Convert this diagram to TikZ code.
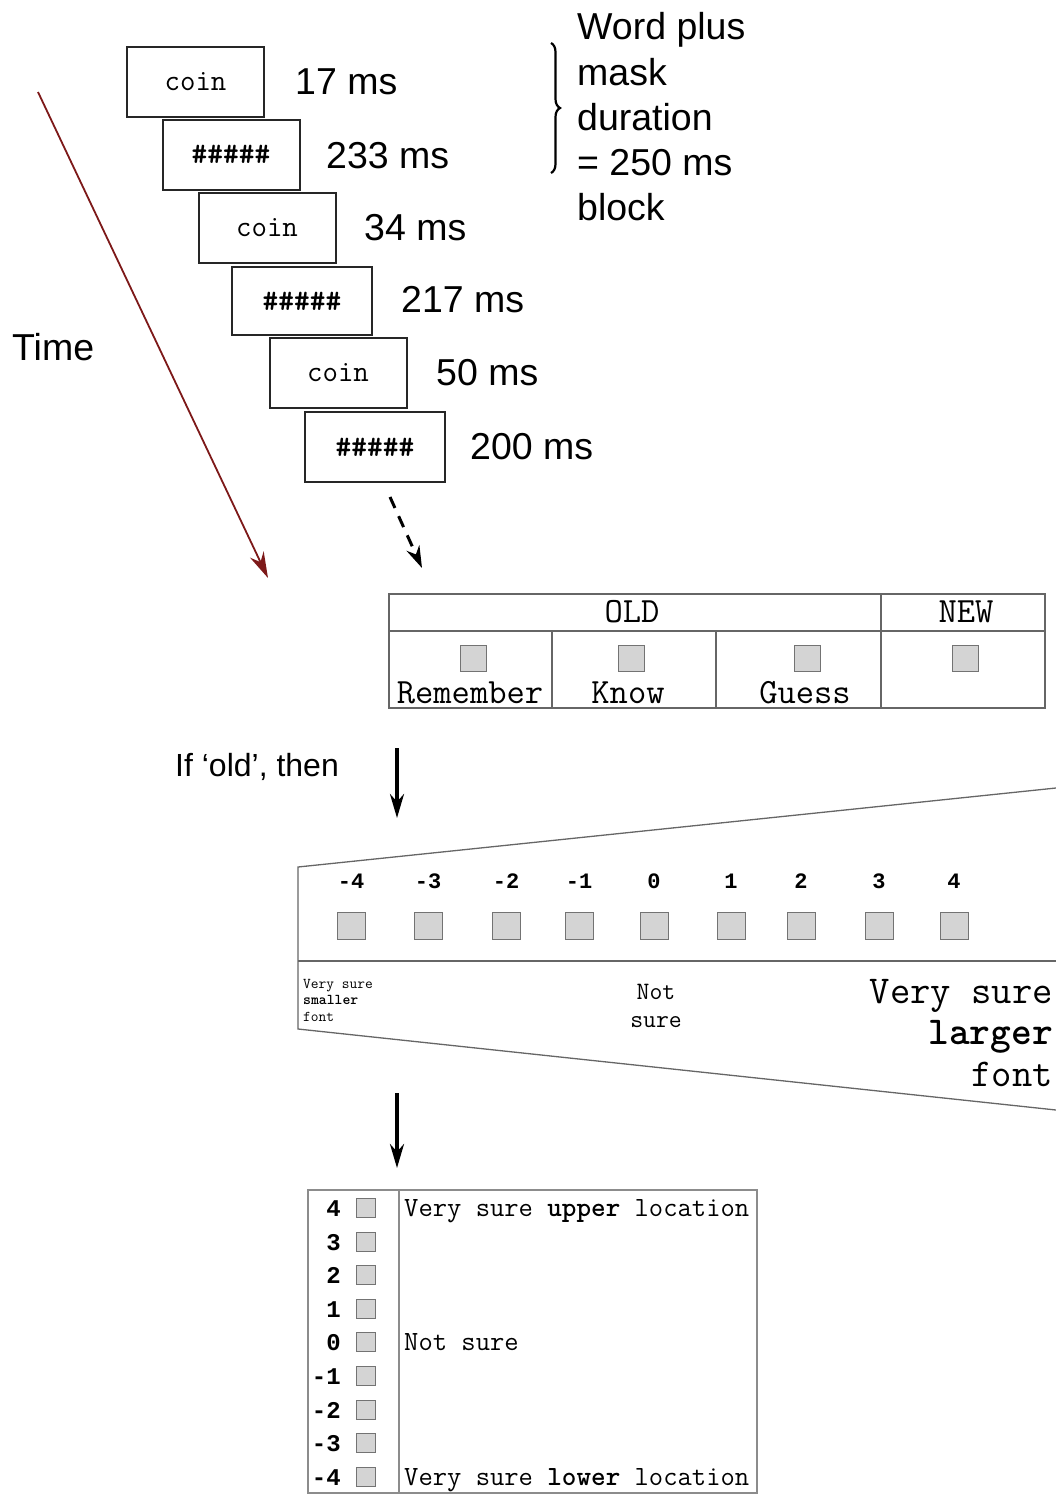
\documentclass[tikz,border=0pt]{standalone}
\usepackage{fontspec}
\setmainfont{Liberation Sans}
\newfontfamily\numfont{Liberation Mono}
\usetikzlibrary{arrows.meta,decorations.pathreplacing}
\definecolor{timered}{RGB}{125,25,25}
\begin{document}
\begin{tikzpicture}[x=1pt,y=-1pt,
  frame/.style={draw=black!85, line width=2pt, fill=white, minimum width=137pt, minimum height=70pt, inner sep=0pt, font=\fontsize{30}{30}\selectfont\ttfamily},
  dur/.style={anchor=west, inner sep=0pt, font=\fontsize{37.5}{40}\selectfont},
  btext/.style={anchor=base west, inner sep=0pt, font=\fontsize{37.5}{40}\selectfont},
  chk/.style={draw=black!55, line width=1pt, fill=black!17, minimum width=26pt, minimum height=26pt, inner sep=0pt},
  tbl/.style={draw=black!60, line width=1.3pt},
  monoT/.style={anchor=base, inner sep=0pt, font=\fontsize{35.5}{35.5}\selectfont\ttfamily},
  bigarrow/.style={line width=3.5pt, -{Stealth[length=24pt,width=14pt]}},
  numT/.style={anchor=base, inner sep=0pt, font=\fontsize{22}{22}\selectfont\numfont\bfseries},
]
\useasboundingbox (0,0) rectangle (1056,1494);

% stimulus frames
\node[frame] (s1) at (195.5,82) {coin};
\node[frame] (s2) at (231,154.5) {\bfseries\#\#\#\#\#};
\node[frame] (s3) at (267,228) {coin};
\node[frame, minimum width=140pt, minimum height=68pt] (s4) at (302,301) {\bfseries\#\#\#\#\#};
\node[frame] (s5) at (338,373) {coin};
\node[frame, minimum width=140pt] (s6) at (375,447) {\bfseries\#\#\#\#\#};

% durations
\node[dur] (d1) at (295,82) {17 ms};
\node[dur] (d2) at (326,156) {233 ms};
\node[dur] (d3) at (364,228) {34 ms};
\node[dur] (d4) at (401,300) {217 ms};
\node[dur] (d5) at (436,373) {50 ms};
\node[dur] (d6) at (470,447) {200 ms};

% brace and its text
\coordinate (bt) at (551,43);
\coordinate (bb) at (551,173);
\draw[decorate, decoration={brace, amplitude=9pt}, line width=2.2pt] (bt) -- (bb);
\node[btext] (w1) at (577,39) {Word plus};
\node[btext] (w2) at (577,85) {mask};
\node[btext] (w3) at (577,130) {duration};
\node[btext] (w4) at (577,175) {= 250 ms};
\node[btext] (w5) at (577,220) {block};

% time arrow
\node[dur] (time) at (12,347) {Time};
\coordinate (ta) at (38,92);
\coordinate (tb) at (268,578);
\draw[line width=1.8pt, draw=timered, -{Stealth[length=26pt,width=15pt]}] (ta) -- (tb);

% dashed arrow
\coordinate (da) at (390,497);
\coordinate (db) at (422,568);
\draw[line width=3pt, dash pattern=on 12pt off 9pt, -{Stealth[length=22pt,width=14pt]}] (da) -- (db);

% first response table
\draw[tbl] (389,594) rectangle (1045,708);
\draw[tbl] (389,631) -- (1045,631);
\draw[tbl] (881,594) -- (881,708);
\draw[tbl] (552,631) -- (552,708);
\draw[tbl] (716,631) -- (716,708);
\node[monoT] (old) at (632,622) {OLD};
\node[monoT] (new) at (966,622) {NEW};
\node[chk] (c1) at (473,658) {};
\node[chk] (c2) at (631,658) {};
\node[chk] (c3) at (807,658) {};
\node[chk] (c4) at (965,658) {};
\node[monoT] (rem) at (470,703) {Remember};
\node[monoT] (know) at (628,703) {Know};
\node[monoT] (guess) at (805,703) {Guess};

% if old
\node[anchor=west, inner sep=0pt, font=\fontsize{32}{32}\selectfont] (ifold) at (175,767) {If ‘old’, then};
\coordinate (a1s) at (397,748);
\coordinate (a1e) at (397,818);
\draw[bigarrow] (a1s) -- (a1e);

% trapezoid scale
\draw[tbl] (1056,788) -- (298,867) -- (298,1029) -- (1056,1110);
\draw[tbl] (298,961) -- (1056,961);
\foreach \v/\x [count=\i] in {-4/351,-3/428,-2/506,-1/579,0/654,1/731,2/801,3/879,4/954}{
  \node[numT] (tn\i) at (\x,888) {\v};
  \node[chk, minimum width=28pt, minimum height=27pt] (tc\i) at (\x,925.5) {};
}
\node[anchor=base west, inner sep=0pt, font=\fontsize{15}{15}\selectfont\ttfamily] (sm1) at (303,988) {Very sure};
\node[anchor=base west, inner sep=0pt, font=\fontsize{15}{15}\selectfont\ttfamily\bfseries] (sm2) at (303,1004) {smaller};
\node[anchor=base west, inner sep=0pt, font=\fontsize{15}{15}\selectfont\ttfamily] (sm3) at (303,1021) {font};
\node[anchor=base, inner sep=0pt, font=\fontsize{25}{25}\selectfont\ttfamily] (ns1) at (656,999) {Not};
\node[anchor=base, inner sep=0pt, font=\fontsize{25}{25}\selectfont\ttfamily] (ns2) at (656,1027) {sure};
\node[anchor=base east, inner sep=0pt, font=\fontsize{39.5}{39.5}\selectfont\ttfamily] (lg1) at (1053,1003) {Very sure};
\node[anchor=base east, inner sep=0pt, font=\fontsize{39.5}{39.5}\selectfont\ttfamily\bfseries] (lg2) at (1053,1044) {larger};
\node[anchor=base east, inner sep=0pt, font=\fontsize{39.5}{39.5}\selectfont\ttfamily] (lg3) at (1053,1086) {font};

\coordinate (a2s) at (397,1093);
\coordinate (a2e) at (397,1168);
\draw[bigarrow] (a2s) -- (a2e);

% location table
\draw[draw=black!45, line width=1.3pt] (308,1190) rectangle (757,1493);
\draw[draw=black!45, line width=1.3pt] (399,1190) -- (399,1493);
\foreach \v [count=\i] in {4,3,2,1,0,-1,-2,-3,-4}{
  \node[anchor=base east, inner sep=0pt, font=\fontsize{24}{24}\selectfont\numfont\bfseries] (ln\i) at (341,{1208+33.6*(\i-1)+8.5}) {\v};
  \node[chk, minimum width=19pt, minimum height=19pt] (lc\i) at (366,{1208+33.6*(\i-1)}) {};
}
\node[anchor=base west, inner sep=0pt, font=\fontsize{27.8}{27.8}\selectfont\ttfamily] (lt1) at (404,1216) {Very sure \textbf{upper} location};
\node[anchor=base west, inner sep=0pt, font=\fontsize{27.8}{27.8}\selectfont\ttfamily] (lt2) at (404,1350) {Not sure};
\node[anchor=base west, inner sep=0pt, font=\fontsize{27.8}{27.8}\selectfont\ttfamily] (lt3) at (404,1485) {Very sure \textbf{lower} location};
\end{tikzpicture}
\end{document}
